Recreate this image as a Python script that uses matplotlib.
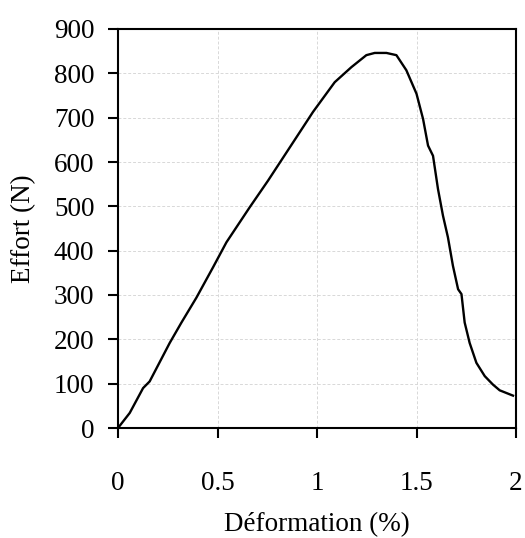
import numpy as np
import matplotlib
matplotlib.use('Agg')
from matplotlib import pyplot as plt

# Strain (%) and load (N)
deformation = [0.0, 0.059, 0.126, 0.159, 0.26, 0.319, 0.394, 0.477, 0.545, 0.662,
               0.754, 0.913, 0.98, 1.089, 1.173, 1.248, 1.29, 1.349, 1.399, 1.449,
               1.5, 1.533, 1.558, 1.583, 1.608, 1.633, 1.658, 1.683, 1.709, 1.726,
               1.742, 1.767, 1.801, 1.843, 1.884, 1.918, 1.985]
effort = [0, 34, 90, 105, 192, 238, 294, 362, 419, 498,
          558, 667, 713, 780, 814, 841, 846, 846, 841, 807,
          754, 697, 637, 614, 539, 479, 430, 366, 313, 302,
          238, 192, 147, 117, 98, 85, 73]

xticks = [0, 0.5, 1, 1.5, 2]
xticklabels = ['0', '0.5', '1', '1.5', '2']
yticks = list(range(0, 901, 100))

plt.rcParams['font.family'] = ['Liberation Serif', 'DejaVu Serif']
plt.rcParams['font.size'] = 19.5

fig = plt.figure(figsize=(5.25, 5.38), dpi=100)
ax = fig.add_axes([118/525, 1 - 428/538, 398/525, 399/538])

ax.plot(deformation, effort, color='black', lw=1.7)

ax.set_xlim(0, 2)
ax.set_ylim(0, 900)
ax.set_xticks(xticks)
ax.set_xticklabels(xticklabels)
ax.set_yticks(yticks)
ax.grid(True, color='#d8d8d8', ls=(0, (3, 2)), lw=0.7)

for s in ax.spines.values():
    s.set_linewidth(1.5)
ax.tick_params(axis='x', direction='out', length=7, width=1.5, pad=24)
ax.tick_params(axis='y', direction='out', length=7, width=1.5, pad=10)

ax.set_xlabel('Déformation (%)')
ax.set_ylabel('Effort (N)')
ax.xaxis.set_label_coords(0.5, -0.212)
ax.yaxis.set_label_coords(-0.205, 0.5)

fig.savefig('out.png', dpi=100)
